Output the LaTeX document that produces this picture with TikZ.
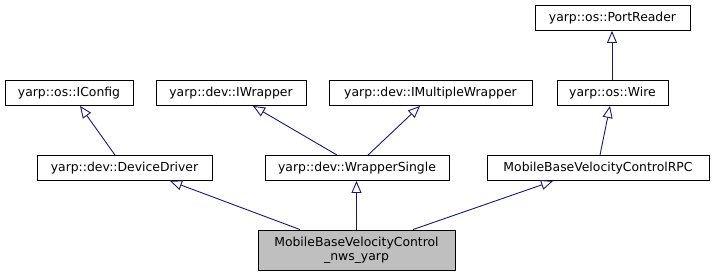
\documentclass[tikz,border=0pt]{standalone}
\usepackage{fontspec}
\setmainfont{DejaVu Sans}
\usepackage{xcolor}
\usepackage{tikz}
\usetikzlibrary{positioning,arrows.meta}

\definecolor{edgeblue}{HTML}{191970}
\definecolor{boxgray}{HTML}{BFBFBF}

\tikzset{
  cls/.style={draw=black, line width=0.9pt, fill=white, inner sep=0pt,
    minimum height=25pt, font=\fontsize{12.4}{14.5}\selectfont},
  inherit/.style={draw=edgeblue, line width=0.9pt,
    -{Triangle[open,length=12pt,width=10pt,fill=white]}}
}

\begin{document}
\begin{tikzpicture}[x=1pt,y=-1pt]
  \useasboundingbox (0,0) rectangle (715,276);

  % top row
  \node[cls, minimum width=155pt] (portreader) at (612.5,18) {yarp::os::PortReader};

  % interfaces
  \node[cls, minimum width=128pt] (iconfig) at (69,93) {yarp::os::IConfig};
  \node[cls, minimum width=150pt] (iwrapper) at (231,93) {yarp::dev::IWrapper};
  \node[cls, minimum width=203pt] (imulti) at (430.5,93) {yarp::dev::IMultipleWrapper};
  \node[cls, minimum width=111pt] (wire) at (612.5,93) {yarp::os::Wire};

  % direct bases
  \node[cls, minimum width=175pt] (devdriver) at (124.5,168) {yarp::dev::DeviceDriver};
  \node[cls, minimum width=184pt] (wsingle) at (357,168) {yarp::dev::WrapperSingle};
  \node[cls, minimum width=222pt] (rpc) at (598,168) {MobileBaseVelocityControlRPC};

  % the class itself
  \node[cls, fill=boxgray, minimum width=197pt, minimum height=40pt, align=center,
    font=\fontsize{12.4}{14}\selectfont] (nws) at (356.5,250)
    {MobileBaseVelocityControl\\\_nws\_yarp};

  % inheritance edges
  \draw[inherit] (300,0 |- nws.north) -- (170,0 |- devdriver.south);
  \draw[inherit] (nws.north) -- (nws.north |- wsingle.south);
  \draw[inherit] (413,0 |- nws.north) -- (553,0 |- rpc.south);
  \draw[inherit] (115,0 |- devdriver.north) -- (80,0 |- iconfig.south);
  \draw[inherit] (337,0 |- wsingle.north) -- (253,0 |- iwrapper.south);
  \draw[inherit] (368,0 |- wsingle.north) -- (420,0 |- imulti.south);
  \draw[inherit] (600,0 |- rpc.north) -- (610,0 |- wire.south);
  \draw[inherit] (612,0 |- wire.north) -- (612,0 |- portreader.south);
\end{tikzpicture}
\end{document}
